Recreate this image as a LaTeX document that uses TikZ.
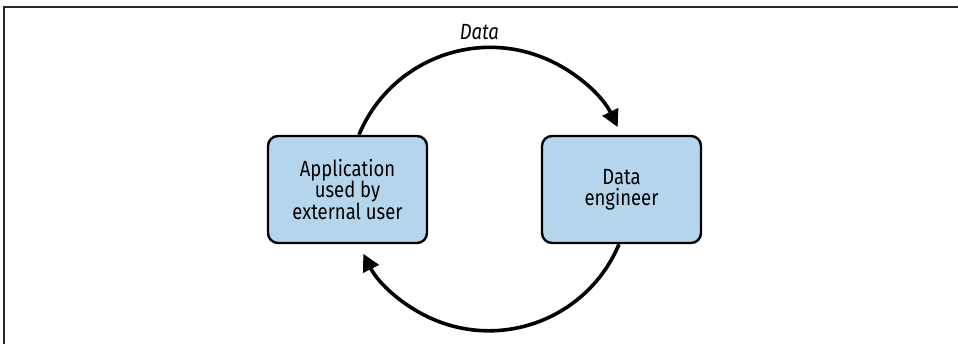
\documentclass[tikz,border=0pt]{standalone}
\usepackage{fontspec}
\setmainfont{Fira Sans}[FakeStretch=0.84]
\usepackage{xcolor}
\usepackage{tikz}
\usetikzlibrary{arrows.meta}
\definecolor{boxblue}{RGB}{180,213,235}
\definecolor{framegray}{RGB}{40,40,40}

\begin{document}
\begin{tikzpicture}[x=1pt,y=1pt,
  box/.style={draw,line width=2.4pt,rounded corners=10pt,fill=boxblue,
    minimum width=159pt,minimum height=107pt,align=center,
    font=\fontsize{22}{21.3}\selectfont},
  flow/.style={line width=3.6pt,-{Triangle[length=17pt,width=17pt]}}]
\useasboundingbox (0,0) rectangle (958,344);
\draw[framegray,line width=1.5pt] (4,0) -- (4,337) -- (958,337);
\node[box] (a) at (347.5,154.5) {Application\\used by\\external user};
\node[box] (e) at (621.5,154.5) {Data\\engineer};
\draw[flow] (a.north) ++(11.5,0) arc[start angle=157.4,end angle=26,radius=142]
  node[pos=0.48,above=3pt,font=\fontsize{22}{21.3}\selectfont\itshape] {Data};
\draw[flow] (e.south) ++(-2.5,0) arc[start angle=-22.7,end angle=-153,radius=141];
\end{tikzpicture}
\end{document}
